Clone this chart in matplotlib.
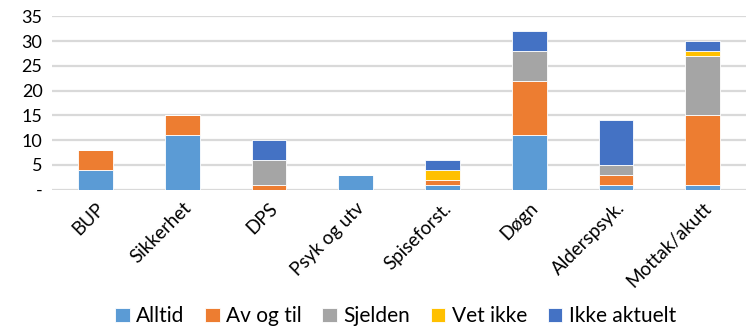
import matplotlib.pyplot as plt
import numpy as np

#---------------- Data ------------
avdelinger = ["BUP", "Sikkerhet", "DPS", "Psyk og utv", "Spiseforst.", "Døgn", "Alderspsyk.", "Mottak/akutt"]
alltid = [4, 11, 0, 3, 1, 11, 1, 1]
av_og_til = [4, 4, 1, 0, 1, 11, 2, 14]
sjelden = [0, 0, 5, 0, 0, 6, 2, 12]
vet_ikke = [0, 0, 0, 0, 2, 0, 0, 1]
ikke_aktuelt = [0, 0, 4, 0, 2, 4, 9, 2]

serier = ["Alltid", "Av og til", "Sjelden", "Vet ikke", "Ikke aktuelt"]
farger = ["#5B9BD5", "#ED7D31", "#A5A5A5", "#FFC000", "#4472C4"]

#---------------- Plot ------------
plt.rcParams['font.family'] = ['Lato', 'DejaVu Sans']

fig = plt.figure(figsize=(7.46, 3.27), dpi=100)
ax = fig.add_axes([0.07, 0.42, 0.93, 0.53])

x = np.arange(len(avdelinger))
bunn = np.zeros(len(avdelinger))
for navn, verdier, farge in zip(serier, [alltid, av_og_til, sjelden, vet_ikke, ikke_aktuelt], farger):
    ax.bar(x, verdier, width=0.4, bottom=bunn, color=farge, label=navn,
           edgecolor="white", linewidth=0.6, zorder=3)
    bunn += np.array(verdier)

ax.set_ylim(0, 35)
ax.set_xlim(-0.5, len(avdelinger) - 0.5)
ax.set_yticks(range(0, 36, 5))
ax.set_yticklabels(["-"] + [str(v) for v in range(5, 36, 5)], fontsize=13)
ax.set_xticks(x)
ax.set_xticklabels(avdelinger, rotation=45, ha="right", rotation_mode="anchor", fontsize=13.5)
ax.tick_params(length=0, pad=7)
ax.yaxis.grid(True, color="#D9D9D9", linewidth=1.6, zorder=0)
for s in ax.spines.values():
    s.set_visible(False)

fig.legend(loc="lower center", ncol=5, bbox_to_anchor=(0.53, -0.055), frameon=False,
           fontsize=15, handlelength=0.7, handleheight=0.7, handletextpad=0.3, columnspacing=1.0)

fig.savefig("out.png", dpi=100)
